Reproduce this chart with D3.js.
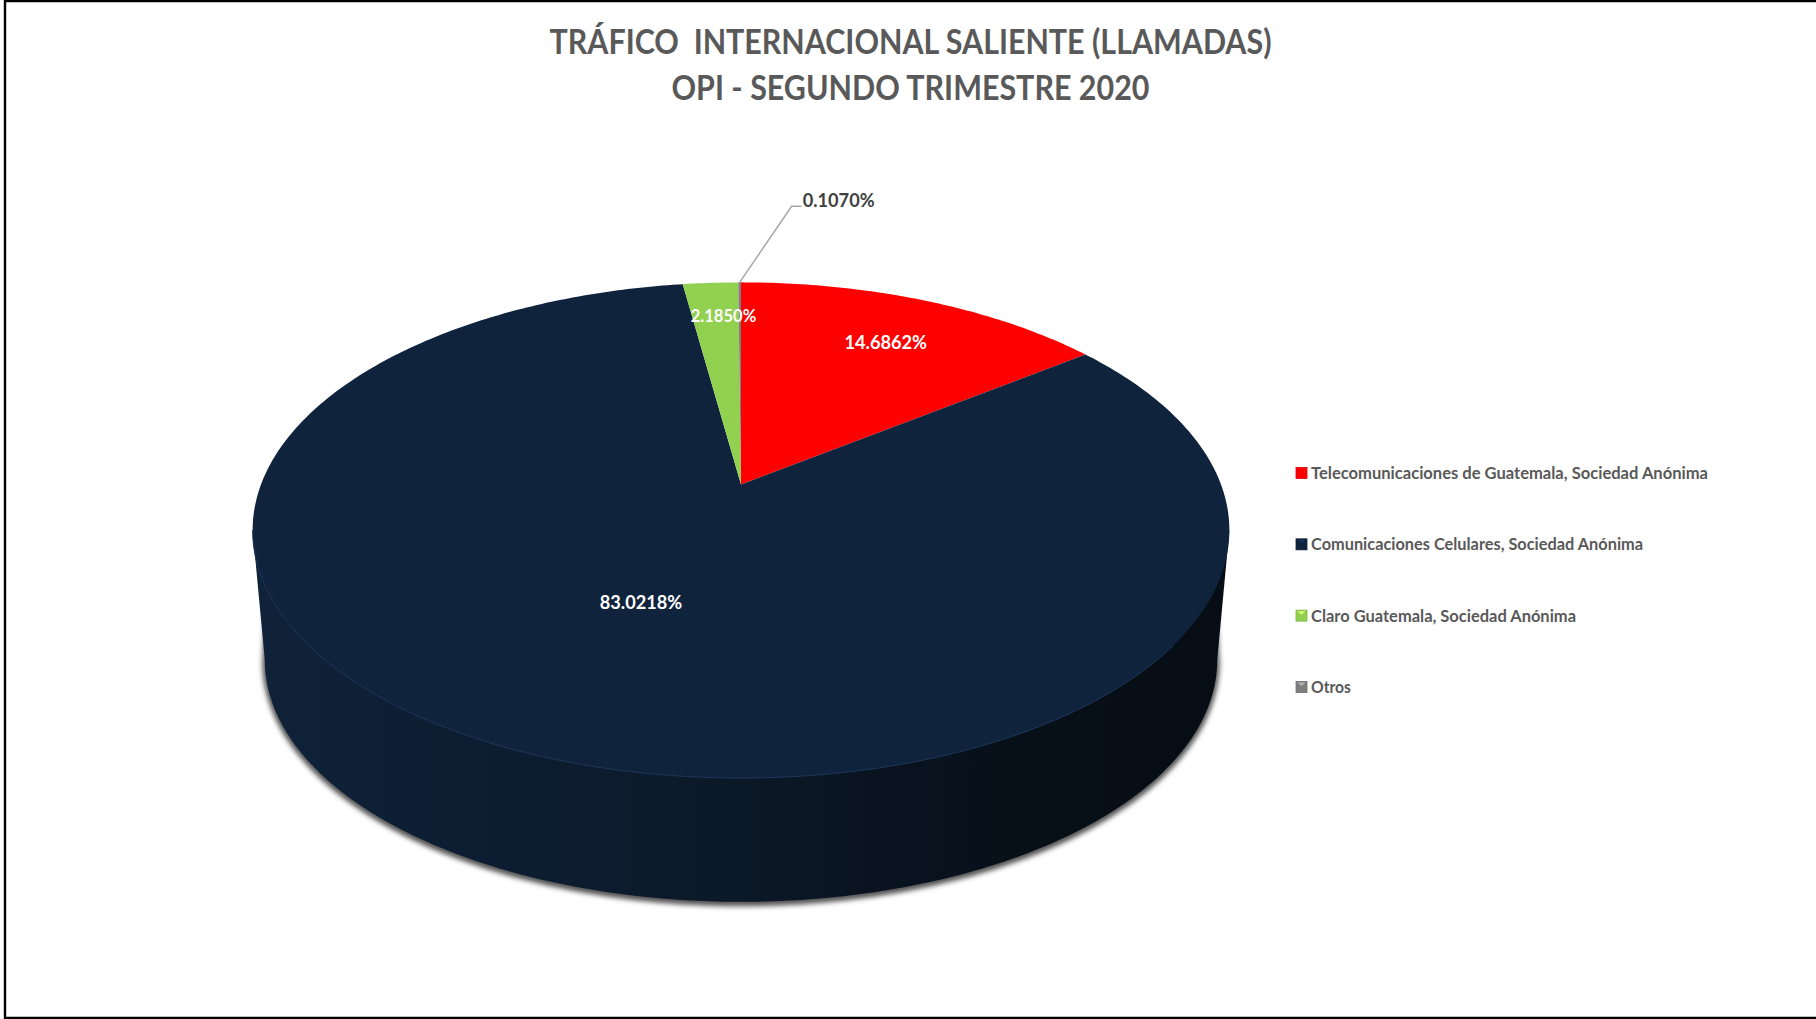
<!DOCTYPE html>
<html>
<head>
<meta charset="utf-8">
<script src="https://cdn.jsdelivr.net/npm/d3@7"></script>
<style>
  html, body { margin: 0; padding: 0; background: #fff; }
  svg { display: block; }
  text { font-family: Lato, "Open Sans", sans-serif; font-weight: 700; }
</style>
</head>
<body>
<div id="chart"></div>
<script>
const titleLines = ["TRÁFICO  INTERNACIONAL SALIENTE (LLAMADAS)", "OPI - SEGUNDO TRIMESTRE 2020"];
const categories = [
    "Telecomunicaciones de Guatemala, Sociedad Anónima",
    "Comunicaciones Celulares, Sociedad Anónima",
    "Claro Guatemala, Sociedad Anónima",
    "Otros"
];
const values = [14.6862, 83.0218, 2.1850, 0.1070];
const labels = ["14.6862%", "83.0218%", "2.1850%", "0.1070%"];
const colors = ["#ff0000", "#0f233d", "#92d050", "#7f7f7f"];

const width = 1816, height = 1019;

// the pie is a flat disc seen in perspective, so the apex is not the middle of the ellipse
const cx = 741, cy = 484.5;
const persp = 0.1844, scaleX = 480, scaleY = 239.4;
const project = (r, angle) => {
    const u = r * Math.sin(angle), v = r * Math.cos(angle);
    const w = 1 + persp * v;
    return [cx + scaleX * u / w, cy - scaleY * v / w];
};

// lower rim of the disc
const midY = 530, depth = 130, shrink = 0.975;
const lower = angle => {
    const p = project(1, angle);
    return [cx + (p[0] - cx) * shrink, midY + depth + (p[1] - midY) * shrink];
};

const line = d3.line();
const closed = d3.line().curve(d3.curveLinearClosed);

const svg = d3.select("#chart").append("svg")
    .attr("width", width)
    .attr("height", height);

const defs = svg.append("defs");

defs.append("filter").attr("id", "blur")
    .attr("x", "-5%").attr("y", "-5%").attr("width", "110%").attr("height", "110%")
    .append("feGaussianBlur").attr("stdDeviation", 2.4);

const sideGrad = defs.append("linearGradient").attr("id", "side")
    .attr("gradientUnits", "userSpaceOnUse")
    .attr("x1", 252).attr("x2", 1230).attr("y1", 0).attr("y2", 0);
[[0, "#0f2239"], [0.2, "#0d1e33"], [0.4, "#0c1b2c"], [0.6, "#0a1522"], [0.8, "#070f18"], [1, "#060d14"]]
    .forEach(s => sideGrad.append("stop").attr("offset", s[0]).attr("stop-color", s[1]));

// frame, there is none on the right
svg.append("path")
    .attr("d", line([[width, 1], [5, 1], [5, height - 1], [width, height - 1]]))
    .attr("fill", "none")
    .attr("stroke", "#000")
    .attr("stroke-width", 2.4);

// title
svg.append("g").selectAll("text").data(titleLines).enter()
    .append("text")
    .attr("x", 910.5)
    .attr("y", (d, i) => 54 + i * 46)
    .attr("text-anchor", "middle")
    .attr("font-size", 35)
    .attr("fill", "#595959")
    .style("white-space", "pre")
    .attr("textLength", (d, i) => i === 0 ? 722 : 478)
    .attr("lengthAdjust", "spacingAndGlyphs")
    .text(d => d);

// side of the disc: the widest points of the rim sit where v = -persp
const widest = Math.acos(-persp);
const sweep = d3.range(0, 201).map(i => widest + i * (2 * Math.PI - 2 * widest) / 200);
const lowerPts = sweep.map(lower);
const sidePts = lowerPts.concat([project(1, 2 * Math.PI - widest), project(1, widest)]);

// shadow stops short of the top corners so it does not poke out beside the face
const lastPt = lowerPts[lowerPts.length - 1], firstPt = lowerPts[0];
svg.append("path")
    .attr("d", closed(lowerPts.concat([[lastPt[0] + 3, lastPt[1] - 60], [firstPt[0] - 3, firstPt[1] - 60]])))
    .attr("fill", "#555")
    .attr("stroke", "#555")
    .attr("stroke-width", 5)
    .attr("transform", "translate(0,2)")
    .attr("filter", "url(#blur)");

svg.append("path")
    .attr("d", closed(sidePts))
    .attr("fill", "url(#side)");

// top face
const pie = d3.pie().sort(null).value(d => d);
const arcs = pie(values);

const slicePts = d => {
    const n = Math.max(2, Math.ceil((d.endAngle - d.startAngle) * 80));
    const rim = d3.range(n + 1).map(i => project(1, d.startAngle + (d.endAngle - d.startAngle) * i / n));
    return [project(0, 0)].concat(rim);
};

svg.append("g").selectAll("path").data(arcs).enter()
    .append("path")
    .attr("d", d => closed(slicePts(d)))
    .attr("fill", (d, i) => colors[i]);

// faint lit edge along the front of the top face
svg.append("path")
    .attr("d", line(sweep.filter(a => a > 2.2 && a < 4.6).map(a => project(1, a))))
    .attr("fill", "none")
    .attr("stroke", "#1d3759")
    .attr("stroke-width", 1);

// data labels
const labelRadius = [0.745, 0.488, 0.81];
const labelNudge = [3, -3, 8];
const labelSize = [18.2, 18.2, 16.6];
const midAngle = d => (d.startAngle + d.endAngle) / 2;

svg.append("g").selectAll("text").data(arcs.slice(0, 3)).enter()
    .append("text")
    .attr("x", (d, i) => project(labelRadius[i], midAngle(d))[0] + labelNudge[i])
    .attr("y", (d, i) => project(labelRadius[i], midAngle(d))[1])
    .attr("dy", "0.35em")
    .attr("text-anchor", "middle")
    .attr("font-size", (d, i) => labelSize[i])
    .attr("fill", "#fff")
    .text((d, i) => labels[i]);

// leader for the tiny slice
const rimPt = project(1, midAngle(arcs[3]));
svg.append("path")
    .attr("d", line([rimPt, [rimPt[0] + 52, rimPt[1] - 76], [rimPt[0] + 62, rimPt[1] - 76]]))
    .attr("fill", "none")
    .attr("stroke", "#a6a6a6")
    .attr("stroke-width", 1.5);

svg.append("text")
    .attr("x", rimPt[0] + 63)
    .attr("y", rimPt[1] - 75)
    .attr("font-size", 18.2)
    .attr("fill", "#404040")
    .text(labels[3]);

// legend
const legendY = d3.scalePoint().domain(categories).range([473, 687]);
const legend = svg.append("g").selectAll("g").data(categories).enter()
    .append("g")
    .attr("transform", d => `translate(1296,${legendY(d)})`);

legend.append("rect")
    .attr("x", 0).attr("y", -5.5)
    .attr("width", 11).attr("height", 11)
    .attr("fill", (d, i) => colors[i])
    .attr("stroke", (d, i) => d3.color(colors[i]).darker(0.4))
    .attr("stroke-width", 0.8);

legend.append("path")
    .attr("d", line([[1.5, -4.5], [9.5, -4.5], [5.5, -1]]))
    .attr("fill", (d, i) => d3.color(colors[i]).brighter(1));

legend.append("text")
    .attr("x", 15)
    .attr("y", 6)
    .attr("font-size", 17)
    .attr("fill", "#595959")
    .attr("textLength", (d, i) => [397, 332, 265, 40][i])
    .attr("lengthAdjust", "spacingAndGlyphs")
    .text(d => d);
</script>
</body>
</html>
